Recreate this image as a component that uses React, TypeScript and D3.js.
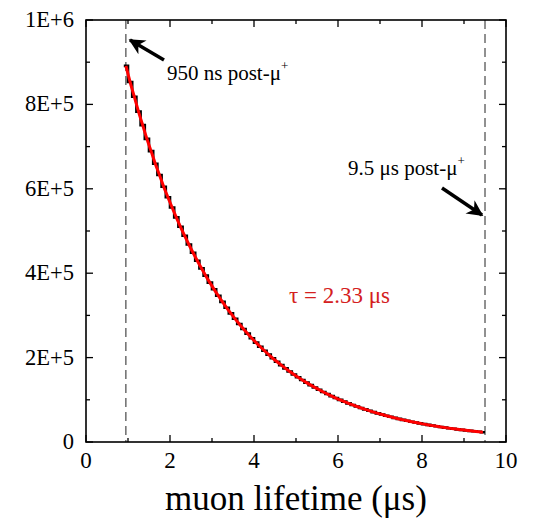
import React from "react";
import * as d3 from "d3";

// Histogram of muon decay times (bin width 0.1 µs, first bin starts at 0.9 µs)
const binStart = 0.9;
const binWidth = 0.1;
const counts: number[] = [
  891200, 853100, 818300, 782900, 750900, 718400, 689300, 659200, 632600, 605000,
  580100, 555700, 532400, 510000, 488600, 468100, 448400, 429600, 411500, 394200,
  377700, 361800, 346600, 332000, 318100, 304700, 291900, 279700, 267900, 256700,
  245900, 235500, 225600, 216200, 207100, 198400, 190100, 182100, 174400, 167100,
  160100, 153300, 146900, 140700, 134800, 129200, 123700, 118500, 113600, 108800,
  104200, 99800, 95600, 91600, 87800, 84100, 80600, 77200, 73900, 70800,
  67800, 65000, 62300, 59700, 57100, 54700, 52400, 50200, 48100, 46100,
  44200, 42300, 40500, 38800, 37200, 35600, 34100, 32700, 31300, 30000,
  28800, 27600, 26400, 25300, 24200, 23200,
];

const xTicks = [0, 2, 4, 6, 8, 10];
const xMinor = [1, 3, 5, 7, 9];
const yTicks = [0, 2e5, 4e5, 6e5, 8e5, 1e6];
const yTickLabels = ["0", "2E+5", "4E+5", "6E+5", "8E+5", "1E+6"];
const yMinor = [1e5, 3e5, 5e5, 7e5, 9e5];
const windowLines = [0.95, 9.5];

const W = 534;
const H = 521;
const L = 86, R = 506, T = 20, B = 442;
const FONT = "'Liberation Serif', 'Times New Roman', 'DejaVu Serif', serif";

export default function App() {
  const x = d3.scaleLinear().domain([0, 10]).range([L, R]);
  const y = d3.scaleLinear().domain([0, 1e6]).range([B, T]);

  const stepPts: [number, number][] = counts.map((c, i) => [binStart + i * binWidth, c]);
  stepPts.push([binStart + counts.length * binWidth, counts[counts.length - 1]]);
  const stepLine = d3
    .line<[number, number]>()
    .x((d) => x(d[0]))
    .y((d) => y(d[1]))
    .curve(d3.curveStepAfter);

  const fitPts: [number, number][] = counts.map((c, i) => [binStart + (i + 0.5) * binWidth, c]);
  const fitLine = d3
    .line<[number, number]>()
    .x((d) => x(d[0]))
    .y((d) => y(d[1]))
    .curve(d3.curveMonotoneX);

  const major = 7;
  const minor = 4;

  return (
    <svg
      width={W}
      height={H}
      style={{ position: "absolute", left: 0, top: 0, background: "#fff", fontFamily: FONT }}
    >
      <defs>
        <marker id="ah" viewBox="0 0 10 10" refX="9" refY="5" markerWidth="5.5" markerHeight="4.6" orient="auto" markerUnits="strokeWidth">
          <path d="M0,0 L10,5 L0,10 L3,5 z" fill="#000" />
        </marker>
      </defs>
      {/* window lines */}
      {windowLines.map((v) => (
        <line key={v} x1={x(v)} x2={x(v)} y1={T} y2={B} stroke="#222" strokeWidth={1} strokeDasharray="9,5" />
      ))}
      {/* histogram */}
      <path d={stepLine(stepPts) || ""} fill="none" stroke="#000" strokeWidth={2.6} />
      <path d={fitLine(fitPts) || ""} fill="none" stroke="#ff0000" strokeWidth={3} />
      {/* frame */}
      <rect x={L} y={T} width={R - L} height={B - T} fill="none" stroke="#000" strokeWidth={1.6} />
      {/* x ticks */}
      {xTicks.map((v) => (
        <g key={"xt" + v}>
          <line x1={x(v)} x2={x(v)} y1={B} y2={B - major} stroke="#000" strokeWidth={1.3} />
          <line x1={x(v)} x2={x(v)} y1={T} y2={T + major} stroke="#000" strokeWidth={1.3} />
          <text x={x(v)} y={468} textAnchor="middle" fontSize={23} fontFamily={FONT}>{v}</text>
        </g>
      ))}
      {xMinor.map((v) => (
        <g key={"xm" + v}>
          <line x1={x(v)} x2={x(v)} y1={B} y2={B - minor} stroke="#000" strokeWidth={1.3} />
          <line x1={x(v)} x2={x(v)} y1={T} y2={T + minor} stroke="#000" strokeWidth={1.3} />
        </g>
      ))}
      {/* y ticks */}
      {yTicks.map((v, i) => (
        <g key={"yt" + v}>
          <line x1={L} x2={L + major} y1={y(v)} y2={y(v)} stroke="#000" strokeWidth={1.3} />
          <line x1={R} x2={R - major} y1={y(v)} y2={y(v)} stroke="#000" strokeWidth={1.3} />
          <text x={74} y={y(v) + 7} textAnchor="end" fontSize={22.5} fontFamily={FONT}>{yTickLabels[i]}</text>
        </g>
      ))}
      {yMinor.map((v) => (
        <g key={"ym" + v}>
          <line x1={L} x2={L + minor} y1={y(v)} y2={y(v)} stroke="#000" strokeWidth={1.3} />
          <line x1={R} x2={R - minor} y1={y(v)} y2={y(v)} stroke="#000" strokeWidth={1.3} />
        </g>
      ))}
      {/* axis title */}
      <text x={(L + R) / 2} y={510} textAnchor="middle" fontSize={35} fontFamily={FONT}>muon lifetime (μs)</text>
      {/* annotations */}
      <line x1={164} y1={60} x2={130} y2={40} stroke="#000" strokeWidth={3.5} markerEnd="url(#ah)" />
      <text x={167} y={80} fontSize={21} fontFamily={FONT}>
        950 ns post-μ<tspan fontSize={13} dy={-10}>+</tspan>
      </text>
      <line x1={442} y1={188} x2={482} y2={215} stroke="#000" strokeWidth={3.5} markerEnd="url(#ah)" />
      <text x={348} y={175} fontSize={21} fontFamily={FONT}>
        9.5 μs post-μ<tspan fontSize={13} dy={-10}>+</tspan>
      </text>
      <text x={289} y={303} fontSize={23} fill="#d42020" fontFamily={FONT}>τ = 2.33 μs</text>
    </svg>
  );
}
